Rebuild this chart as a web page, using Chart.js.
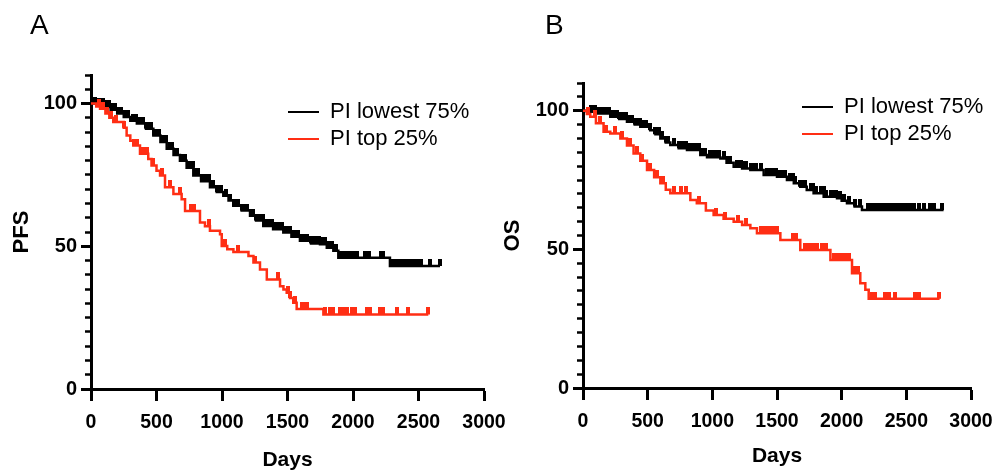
<!DOCTYPE html>
<html><head><meta charset="utf-8">
<script src="https://cdn.jsdelivr.net/npm/chart.js@4.4.1/dist/chart.umd.min.js"></script>
<style>
html,body{margin:0;padding:0;background:#fff;}
body{width:994px;height:474px;position:relative;overflow:hidden;}
canvas{position:absolute;top:0;}
#cA{left:0;} #cB{left:497px;}
</style></head><body>
<canvas id="cA" width="520" height="474"></canvas>
<canvas id="cB" width="497" height="474"></canvas>
<script>
// ---- labels ----
const seriesNames = ['PI lowest 75%', 'PI top 25%'];
const panelLetters = ['A', 'B'];
const yTitles = ['PFS', 'OS'];
const xTitle = 'Days';
const xRange = [0, 3000];
const xStep = 500;
const yRange = [0, 110];
const yMajorStep = 50;
const yMinorStep = 5;

// ---- Panel A (PFS) ----
const pfsLowDays = [0,60,110,150,200,250,300,350,420,476,530,578,630,679,730,781,840,908,960,1010,1050,1086,1150,1214,1260,1315,1390,1468,1530,1595,1680,1748,1800,1850,1888,2282,2664];
const pfsLowSurv = [100,99.5,98.8,97.8,96.5,95.3,94,93,91.2,88.8,86.5,84.2,82,80,77.5,74.8,72.8,70.7,69,67.7,66,64.2,62.5,60.7,59,57.1,56,54.8,53.3,51.9,51,50.7,49.5,48.4,46,43.1,43.1];
const pfsLowCensor = [30,60,90,120,140,160,180,210,230,260,280,320,340,370,400,420,440,460,480,500,520,550,570,600,620,640,660,700,720,740,760,780,800,820,850,880,900,930,960,990,1030,1060,1090,1120,1150,1170,1190,1220,1240,1260,1280,1310,1330,1360,1380,1400,1430,1460,1480,1500,1520,1550,1580,1610,1630,1650,1680,1700,1720,1740,1770,1790,1820,1840,1870,1910,1930,1950,1970,1990,2010,2030,2090,2120,2210,2230,2300,2320,2340,2360,2380,2400,2420,2440,2460,2480,2500,2520,2590,2664];

const pfsTopDays = [0,40,69,110,140,170,250,272,300,323,374,437,462,500,527,565,629,692,718,832,870,908,985,998,1040,1087,1202,1240,1290,1342,1443,1469,1494,1519,1544,1570,1774,2575];
const pfsTopSurv = [100,99,98.2,96.5,95,93.5,91.5,88.8,87,85.3,82.4,80.6,78.3,76.5,74.8,70.7,68.3,66.5,62.4,58.3,57,55.4,54.2,50.1,49,48,46.6,44.3,41.9,38.4,36,34.9,33.7,31.9,30.2,28,26.1,26.1];
const pfsTopCensor = [60,90,120,150,190,252,330,350,390,410,430,470,540,600,680,760,790,900,1020,1120,1250,1430,1500,1520,1560,1610,1630,1650,1786,1824,1850,1901,1926,1952,1990,2015,2105,2130,2206,2232,2334,2423,2575];

// ---- Panel B (OS) ----
const osLowDays = [0,30,100,211,280,340,400,443,520,560,598,640,675,740,804,907,959,1062,1110,1165,1230,1294,1397,1500,1577,1630,1680,1730,1783,1861,1964,2000,2041,2100,2157,2788];
const osLowSurv = [100,99.6,99,97.8,97,96,95,94.2,93,91.5,90,88.5,87.6,86.5,85.8,84,83.2,82.8,81.2,79.8,79.2,78.6,76.8,76.2,75,73.8,72.6,71.4,70.2,69,68.4,67.5,66.6,65.5,64.2,64.2];
const osLowCensor = [60,90,120,150,170,200,220,240,260,280,300,330,350,380,400,420,440,460,490,520,560,590,610,640,660,700,740,760,780,800,830,850,870,900,920,940,980,1010,1030,1050,1090,1120,1140,1190,1220,1240,1260,1300,1320,1340,1380,1420,1440,1460,1490,1520,1540,1560,1600,1620,1640,1680,1700,1720,1760,1780,1800,1840,1860,1880,1920,1940,1960,1990,2020,2060,2100,2140,2200,2230,2260,2290,2320,2350,2380,2410,2440,2470,2500,2530,2560,2600,2640,2680,2711,2776];

const osTopDays = [0,30,56,100,159,211,289,340,391,443,495,550,598,640,675,830,880,950,1010,1087,1165,1230,1294,1345,1526,1680,1913,2080,2144,2183,2209,2757];
const osTopSurv = [100,98.8,97.8,95.5,92.4,91.8,90,87.5,84.6,82,78.6,76,73.8,71.5,70.2,67.8,66.6,64,62.4,61,60,58.8,57.6,55.8,53.4,49.8,46.2,41.4,37.8,35.4,32.2,32.2];
const osTopCensor = [40,90,130,180,250,300,360,420,460,520,570,620,700,760,800,900,1030,1100,1200,1260,1380,1410,1440,1470,1500,1620,1650,1720,1750,1780,1810,1850,1880,1940,1970,2000,2030,2060,2100,2130,2234,2260,2337,2363,2415,2570,2596,2750];

// ---- styling ----
const FONT = "'Liberation Sans', Arial, Helvetica, sans-serif";
const BLACK = '#000000';
const RED = '#ff2e14';
Chart.defaults.font.family = FONT;
Chart.defaults.color = '#000';

function survAt(days, surv, t) {
  let v = surv[0];
  for (let i = 0; i < days.length; i++) { if (days[i] <= t) v = surv[i]; else break; }
  return v;
}
function makeTick(color) {
  const c = document.createElement('canvas');
  c.width = 4; c.height = 14;
  const g = c.getContext('2d');
  g.fillStyle = color; g.fillRect(0, 0, 4, 7);
  return c;
}
const tickBlack = makeTick(BLACK);
const tickRed = makeTick(RED);

function lineDs(label, days, surv, color, order) {
  return {
    type: 'line', label, order,
    data: days.map((d, i) => ({x: d, y: surv[i]})),
    borderColor: color, backgroundColor: color, borderWidth: 2.5,
    stepped: true, pointRadius: 0, fill: false
  };
}
function censorDs(days, surv, censor, color, img, order) {
  return {
    type: 'line', label: '_censor', order, showLine: false,
    data: censor.map(c => ({x: c, y: survAt(days, surv, c)})),
    borderColor: color, backgroundColor: color,
    pointStyle: img, pointRadius: 3, pointHoverRadius: 3
  };
}

function buildPanel(id, p) {
  const datasets = [
    lineDs(seriesNames[0], p.lowDays, p.lowSurv, BLACK, 3),
    lineDs(seriesNames[1], p.topDays, p.topSurv, RED, 1),
    censorDs(p.lowDays, p.lowSurv, p.lowCensor, BLACK, tickBlack, 2),
    censorDs(p.topDays, p.topSurv, p.topCensor, RED, tickRed, 0)
  ];
  return new Chart(document.getElementById(id), {
    type: 'line',
    data: { datasets },
    plugins: [{
      id: 'place',
      afterLayout(chart) {
        const L = chart.legend;
        L.left = p.legendX; L.top = p.legendY;
        L.right = p.legendX + L.width; L.bottom = p.legendY + L.height;
        chart.titleBlock.left = p.letterX;
      }
    }],
    options: {
      responsive: false, animation: false, devicePixelRatio: 1,
      layout: { padding: { left: 0, top: 0, bottom: 0, right: p.padRight } },
      plugins: {
        tooltip: { enabled: false },
        title: {
          display: true, text: p.letter, align: 'start', color: '#000',
          font: { size: 28, weight: 'normal', family: FONT },
          padding: { top: 9, bottom: p.titlePadBottom }
        },
        legend: {
          display: true, position: 'chartArea', align: 'start',
          labels: {
            boxWidth: 31, boxHeight: 2, padding: 5, color: '#000',
            font: { size: 22, family: FONT },
            filter: item => item.datasetIndex < 2,
            sort: (a, b) => a.datasetIndex - b.datasetIndex,
            generateLabels: chart => Chart.defaults.plugins.legend.labels.generateLabels(chart)
              .map(it => Object.assign({}, it, { lineWidth: 0, fillStyle: it.strokeStyle }))
          }
        }
      },
      scales: {
        x: {
          type: 'linear', position: 'bottom', min: xRange[0], max: xRange[1],
          ticks: { stepSize: xStep, color: '#000', padding: 10, maxRotation: 0, autoSkip: false,
                   callback: v => String(v),
                   font: { size: 19.5, weight: 'bold', family: FONT } },
          grid: { display: true, drawOnChartArea: false, drawTicks: true, tickLength: 12, tickWidth: 3, tickColor: '#000' },
          border: { display: true, width: 3, color: '#000' },
          title: { display: true, text: xTitle, color: '#000',
                   font: { size: 21, weight: 'bold', family: FONT }, padding: { top: 0, bottom: p.xTitlePad } },
          afterFit(s) { s.height = p.xAxisH; s.paddingLeft = 0; s.paddingRight = 0; }
        },
        y: {
          type: 'linear', position: 'left', weight: 1, min: yRange[0], max: yRange[1],
          ticks: { stepSize: yMajorStep, includeBounds: false, color: '#000', padding: 4,
                   callback: v => String(v),
                   font: { size: 20, weight: 'bold', family: FONT } },
          grid: { display: true, drawOnChartArea: false, drawTicks: true, tickLength: 10, tickWidth: 3, tickColor: '#000' },
          border: { display: true, width: 3, color: '#000' },
          title: { display: true, text: p.yTitle, color: '#000',
                   font: { size: 22, weight: 'bold', family: FONT }, padding: { top: p.yTitlePad, bottom: 0 } },
          afterFit(s) { s.width = p.yAxisW; s.paddingTop = 0; s.paddingBottom = 0; }
        },
        yMinor: {
          type: 'linear', position: 'left', weight: 0, min: yRange[0], max: yRange[1],
          ticks: { display: false, stepSize: yMinorStep, includeBounds: false },
          grid: { display: true, drawOnChartArea: false, drawTicks: true, tickLength: 6, tickWidth: 2.5, tickColor: '#000' },
          border: { display: false },
          afterFit(s) { s.width = 0; s.paddingTop = 0; s.paddingBottom = 0; }
        }
      }
    }
  });
}

buildPanel('cA', {
  letter: panelLetters[0], yTitle: yTitles[0],
  lowDays: pfsLowDays, lowSurv: pfsLowSurv, lowCensor: pfsLowCensor,
  topDays: pfsTopDays, topSurv: pfsTopSurv, topCensor: pfsTopCensor,
  padRight: 36, titlePadBottom: 32.4, xAxisH: 85, yAxisW: 91, yTitlePad: 8.8, xTitlePad: 1.4,
  legendX: 283, legendY: 96, letterX: 30
});
buildPanel('cB', {
  letter: panelLetters[1], yTitle: yTitles[1],
  lowDays: osLowDays, lowSurv: osLowSurv, lowCensor: osLowCensor,
  topDays: osTopDays, topSurv: osTopSurv, topCensor: osTopCensor,
  padRight: 23, titlePadBottom: 40.4, xAxisH: 86, yAxisW: 86, yTitlePad: 3.1, xTitlePad: 4.7,
  legendX: 300, legendY: 91, letterX: 48
});
</script>
</body></html>
